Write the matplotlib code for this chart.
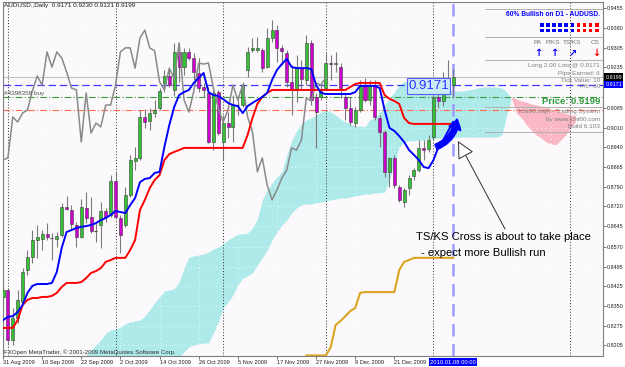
import numpy as np
import matplotlib.pyplot as plt
from matplotlib.patches import Rectangle
from matplotlib.transforms import blended_transform_factory

plt.rcParams['font.family'] = ['Liberation Sans', 'DejaVu Sans']

# ---- daily AUDUSD bars, 31 Aug 2009 .. 8 Jan 2010 ----
opens = [0.8383, 0.8409, 0.8223, 0.8305, 0.8364, 0.8483, 0.8531, 0.8594, 0.8598, 0.8617,
         0.8602, 0.8598, 0.8613, 0.8717, 0.8706, 0.8650, 0.8605, 0.8713, 0.8680, 0.8628,
         0.8650, 0.8702, 0.8687, 0.8813, 0.8676, 0.8650, 0.8761, 0.8887, 0.8899, 0.9051,
         0.9036, 0.9065, 0.9084, 0.9177, 0.9203, 0.9151, 0.9292, 0.9236, 0.9292, 0.9270,
         0.9214, 0.9162, 0.9140, 0.8958, 0.9143, 0.8958, 0.9028, 0.9014, 0.9095, 0.9095,
         0.9225, 0.9299, 0.9299, 0.9299, 0.9236, 0.9344, 0.9373, 0.9307, 0.9288, 0.9181,
         0.9151, 0.9232, 0.9188, 0.9325, 0.9125, 0.9125, 0.9158, 0.9251, 0.9247, 0.9236,
         0.9125, 0.9084, 0.9028, 0.9077, 0.9169, 0.9114, 0.9169, 0.9047, 0.8995, 0.8847,
         0.8899, 0.8791, 0.8735, 0.8787, 0.8832, 0.8854, 0.8936, 0.8932, 0.8976, 0.9125,
         0.9110, 0.9192, 0.9171]
highs = [0.8427, 0.8416, 0.8342, 0.8409, 0.8490, 0.8557, 0.8631, 0.8650, 0.8631, 0.8657,
         0.8620, 0.8624, 0.8732, 0.8758, 0.8724, 0.8661, 0.8746, 0.8772, 0.8754, 0.8657,
         0.8735, 0.8713, 0.8835, 0.8847, 0.8687, 0.8791, 0.8910, 0.8939, 0.9077, 0.9080,
         0.9084, 0.9114, 0.9158, 0.9225, 0.9232, 0.9325, 0.9329, 0.9307, 0.9307, 0.9288,
         0.9270, 0.9177, 0.9162, 0.9158, 0.9151, 0.9058, 0.9069, 0.9132, 0.9125, 0.9181,
         0.9310, 0.9344, 0.9347, 0.9307, 0.9381, 0.9411, 0.9392, 0.9318, 0.9299, 0.9244,
         0.9281, 0.9262, 0.9355, 0.9336, 0.9140, 0.9169, 0.9288, 0.9281, 0.9292, 0.9251,
         0.9140, 0.9125, 0.9088, 0.9188, 0.9195, 0.9188, 0.9188, 0.9058, 0.9002, 0.8902,
         0.8910, 0.8798, 0.8787, 0.8835, 0.8861, 0.8965, 0.8965, 0.8984, 0.9132, 0.9140,
         0.9218, 0.9262, 0.9230]
lows = [0.8372, 0.8205, 0.8205, 0.8286, 0.8353, 0.8464, 0.8509, 0.8528, 0.8557, 0.8594,
        0.8520, 0.8568, 0.8605, 0.8706, 0.8635, 0.8568, 0.8602, 0.8657, 0.8620, 0.8587,
        0.8565, 0.8661, 0.8680, 0.8676, 0.8546, 0.8643, 0.8754, 0.8854, 0.8891, 0.9010,
        0.9002, 0.9051, 0.9077, 0.9143, 0.9162, 0.9129, 0.9181, 0.9206, 0.9262, 0.9188,
        0.9143, 0.9125, 0.8954, 0.8928, 0.8984, 0.8891, 0.8973, 0.8958, 0.9058, 0.9088,
        0.9199, 0.9292, 0.9292, 0.9218, 0.9232, 0.9329, 0.9255, 0.9244, 0.9162, 0.9058,
        0.9106, 0.9151, 0.9169, 0.9095, 0.8936, 0.9114, 0.9151, 0.9188, 0.9218, 0.9121,
        0.9040, 0.9021, 0.9014, 0.9069, 0.9106, 0.9095, 0.9040, 0.8939, 0.8828, 0.8791,
        0.8787, 0.8735, 0.8717, 0.8761, 0.8817, 0.8847, 0.8891, 0.8921, 0.8965, 0.9084,
        0.9091, 0.9151, 0.9121]
closes = [0.8409, 0.8223, 0.8305, 0.8372, 0.8476, 0.8531, 0.8594, 0.8605, 0.8617, 0.8605,
          0.8602, 0.8609, 0.8717, 0.8709, 0.8654, 0.8605, 0.8717, 0.8676, 0.8628, 0.8628,
          0.8702, 0.8680, 0.8813, 0.8680, 0.8613, 0.8761, 0.8891, 0.8899, 0.9051, 0.9032,
          0.9065, 0.9077, 0.9147, 0.9203, 0.9169, 0.9292, 0.9236, 0.9292, 0.9270, 0.9218,
          0.9158, 0.9151, 0.8958, 0.9140, 0.8991, 0.9028, 0.9014, 0.9095, 0.9095, 0.9169,
          0.9292, 0.9307, 0.9307, 0.9232, 0.9344, 0.9373, 0.9307, 0.9296, 0.9181, 0.9151,
          0.9232, 0.9192, 0.9325, 0.9114, 0.9069, 0.9147, 0.9251, 0.9247, 0.9251, 0.9158,
          0.9084, 0.9032, 0.9077, 0.9169, 0.9114, 0.9169, 0.9051, 0.8995, 0.8847, 0.8899,
          0.8798, 0.8743, 0.8780, 0.8824, 0.8854, 0.8936, 0.8928, 0.8965, 0.9121, 0.9110,
          0.9177, 0.9169, 0.9199]

tenkan = [0.8297, 0.8309, 0.8312, 0.8327, 0.8353, 0.8398, 0.8424, 0.8431, 0.8431, 0.8431,
          0.8435, 0.8476, 0.8565, 0.8624, 0.8631, 0.8639, 0.8643, 0.8646, 0.8650, 0.8657,
          0.8668, 0.8676, 0.8687, 0.8702, 0.8698, 0.8694, 0.8724, 0.8750, 0.8809, 0.8821,
          0.8824, 0.8843, 0.8847, 0.8940, 0.9021, 0.9088, 0.9132, 0.9143, 0.9151, 0.9177,
          0.9195, 0.9214, 0.9143, 0.9132, 0.9129, 0.9117, 0.9103, 0.9095, 0.9091, 0.9065,
          0.9091, 0.9103, 0.9114, 0.9125, 0.9140, 0.9188, 0.9225, 0.9247, 0.9266, 0.9236,
          0.9232, 0.9232, 0.9232, 0.9229, 0.9169, 0.9140, 0.9136, 0.9136, 0.9136, 0.9136,
          0.9136, 0.9136, 0.9143, 0.9166, 0.9166, 0.9166, 0.9166, 0.9158, 0.9077, 0.9010,
          0.8999, 0.8980, 0.8958, 0.8928, 0.8910, 0.8891, 0.8865, 0.8861, 0.8891, 0.8939,
          0.8965, 0.8999, 0.9032]
kijun = [0.8268, 0.8268, 0.8268, 0.8297, 0.8353, 0.8372, 0.8379, 0.8379, 0.8383, 0.8383,
         0.8387, 0.8398, 0.8420, 0.8435, 0.8435, 0.8435, 0.8438, 0.8453, 0.8472, 0.8479,
         0.8490, 0.8513, 0.8520, 0.8528, 0.8528, 0.8528, 0.8557, 0.8594, 0.8706, 0.8743,
         0.8787, 0.8817, 0.8835, 0.8891, 0.8913, 0.8921, 0.8928, 0.8936, 0.8936, 0.8936,
         0.8936, 0.8936, 0.8936, 0.8936, 0.8936, 0.8936, 0.8936, 0.8936, 0.8936, 0.8936,
         0.8984, 0.9047, 0.9099, 0.9125, 0.9140, 0.9151, 0.9151, 0.9151, 0.9151, 0.9151,
         0.9151, 0.9151, 0.9151, 0.9151, 0.9151, 0.9151, 0.9151, 0.9151, 0.9151, 0.9151,
         0.9151, 0.9162, 0.9173, 0.9177, 0.9177, 0.9177, 0.9177, 0.9177, 0.9132, 0.9118,
         0.9110, 0.9099, 0.9047, 0.9028, 0.9025, 0.9025, 0.9025, 0.9025, 0.9025, 0.9025,
         0.9025, 0.9025, 0.9025]

# cloud (senkou spans), first value sits on bar 17, last one 25 bars past the last candle
cloud_first = 17
span_a = [0.8168, 0.8186, 0.8205, 0.8223, 0.8249, 0.8260, 0.8264, 0.8272, 0.8283, 0.8290,
          0.8294, 0.8297, 0.8312, 0.8335, 0.8361, 0.8383, 0.8405, 0.8409, 0.8413, 0.8439,
          0.8490, 0.8531, 0.8535, 0.8539, 0.8542, 0.8550, 0.8561, 0.8568, 0.8580, 0.8594,
          0.8605, 0.8617, 0.8617, 0.8620, 0.8639, 0.8672, 0.8743, 0.8780, 0.8806, 0.8828,
          0.8847, 0.8910, 0.8962, 0.8999, 0.9025, 0.9040, 0.9047, 0.9058, 0.9069, 0.9077,
          0.9069, 0.9058, 0.9043, 0.9032, 0.9025, 0.9017, 0.9017, 0.9014, 0.9040, 0.9047,
          0.9069, 0.9095, 0.9121, 0.9143, 0.9169, 0.9181, 0.9188, 0.9188, 0.9188, 0.9188,
          0.9188, 0.9188, 0.9173, 0.9158, 0.9151, 0.9147, 0.9147, 0.9147, 0.9151, 0.9154,
          0.9158, 0.9162, 0.9162, 0.9162, 0.9162, 0.9158, 0.9143, 0.9114, 0.9065, 0.9047,
          0.9021, 0.9002, 0.8984, 0.8973, 0.8958, 0.8951, 0.8947, 0.8965, 0.8984, 0.9010,
          0.9032]
span_b = [0.8094, 0.8094, 0.8094, 0.8094, 0.8094, 0.8094, 0.8094, 0.8094, 0.8094, 0.8094,
          0.8094, 0.8094, 0.8094, 0.8094, 0.8094, 0.8094, 0.8094, 0.8094, 0.8131, 0.8160,
          0.8179, 0.8197, 0.8205, 0.8209, 0.8212, 0.8212, 0.8249, 0.8290, 0.8342, 0.8364,
          0.8390, 0.8427, 0.8453, 0.8461, 0.8472, 0.8501, 0.8528, 0.8557, 0.8594, 0.8624,
          0.8650, 0.8668, 0.8694, 0.8713, 0.8724, 0.8728, 0.8728, 0.8732, 0.8735, 0.8739,
          0.8743, 0.8746, 0.8750, 0.8750, 0.8754, 0.8758, 0.8761, 0.8765, 0.8765, 0.8769,
          0.8769, 0.8772, 0.8817, 0.8884, 0.8939, 0.8958, 0.8962, 0.8962, 0.8965, 0.8965,
          0.8969, 0.8969, 0.8973, 0.8973, 0.8973, 0.8973, 0.8976, 0.8976, 0.8976, 0.8976,
          0.8976, 0.8976, 0.8976, 0.8976, 0.8976, 0.8984, 0.9058, 0.9125, 0.9117, 0.9110,
          0.9106, 0.9099, 0.9095, 0.9091, 0.9088, 0.9080, 0.9073, 0.9069, 0.9065, 0.9058,
          0.9058]

# orange trailing line, from bar 62
trail_first = 62
trail = [0.8166, 0.8166, 0.8166, 0.8166, 0.8166, 0.8197, 0.8279, 0.8294, 0.8312, 0.8331,
         0.8342, 0.8398, 0.8401, 0.8401, 0.8401, 0.8401, 0.8401, 0.8401, 0.8401, 0.8483,
         0.8513, 0.8520, 0.8528, 0.8528, 0.8528, 0.8528, 0.8528, 0.8528, 0.8528, 0.8528,
         0.8528]

date_labels = ['31 Aug 2009', '10 Sep 2009', '22 Sep 2009', '2 Oct 2009', '14 Oct 2009',
               '26 Oct 2009', '5 Nov 2009', '17 Nov 2009', '27 Nov 2009', '9 Dec 2009',
               '21 Dec 2009']
month_starts = [1, 23, 45, 66, 88, 116]   # bars of 1 Sep, 1 Oct, 2 Nov, 1 Dec, 4 Jan, 1 Feb
price_labels = ['0.9455', '0.9380', '0.9305', '0.9235', '0.9085', '0.9010', '0.8940',
                '0.8865', '0.8790', '0.8720', '0.8645', '0.8570', '0.8495', '0.8425',
                '0.8350', '0.8275', '0.8205']

order_price = 0.9171
buy_line = 0.9124
stop_line = 0.9077
bullish_boxes = 6          # of 10
panel_heads = ['PA', 'P/KS', 'TS/KS', 'CS']
panel_arrows = ['\u2191', '\u2191', '\u2197', '\u2193']
panel_colors = ['#0000ff', '#0000ff', '#0000ff', '#ff0000']

# ------------------------------------------------------------------
n = len(closes)
bars = np.arange(n)
W, H = 625, 367
fig = plt.figure(figsize=(W / 100, H / 100), dpi=100)
ax = fig.add_axes([3 / W, 11 / H, 600 / W, 354 / H])
ax.set_facecolor('#fcf9fc')
ax.set_xlim(0.2, 122.65)
ax.set_ylim(0.81639, 0.94773)


def fx(px):
    return (px - 3) / 600


def fy(py):
    return (356 - py) / 354


# cloud
cx = np.arange(cloud_first, cloud_first + len(span_a))
a = np.array(span_a)
b = np.array(span_b)
ax.fill_between(cx, a, b, where=a >= b, interpolate=True, color='#aeeaea', lw=0, zorder=1)
ax.fill_between(cx, a, b, where=a < b, interpolate=True, color='#f9b8c4', lw=0, zorder=1)

# faint dotted grid (shows as white dots over the cloud)
for p in price_labels:
    ax.axhline(float(p), color='white', lw=0.6, ls=(0, (1, 4)), zorder=1.5)
for k in range(0, 124, 8):
    ax.axvline(k, color='white', lw=0.6, ls=(0, (1, 4)), zorder=1.5)

# separators
for m in month_starts:
    ax.axvline(m, color='#303030', lw=0.7, ls=(0, (1, 2)), zorder=2)
ax.axvline(n - 1, color='#9c9cff', lw=1.8, ls=(0, (5, 3)), zorder=2)

# horizontal trade levels
ax.axhline(closes[-1], color='#c4c4c4', lw=0.8, zorder=2)
ax.axhline(order_price, color='#3b3bff', lw=0.9, ls=(0, (6, 3)), zorder=2)
ax.axhline(buy_line, color='#3a9a3a', lw=0.8, ls=(0, (6, 2, 1, 2)), zorder=2)
ax.axhline(stop_line, color='#ff6a4a', lw=0.8, ls=(0, (6, 2, 1, 2)), zorder=2)

# candles
bw = 0.62
for i in bars:
    o, h, l, c = opens[i], highs[i], lows[i], closes[i]
    ax.vlines(i, l, h, color='#7a7a7a', lw=0.8, zorder=3)
    if abs(c - o) < 1e-6:
        ax.hlines(o, i - bw / 2, i + bw / 2, color='#505050', lw=0.9, zorder=3)
        continue
    col = '#35c035' if c > o else '#d000d0'
    ax.add_patch(Rectangle((i - bw / 2, min(o, c)), bw, abs(c - o), facecolor=col,
                           edgecolor='#3c3c3c', lw=0.4, zorder=3))

# indicator lines
ax.plot(bars[:-26], closes[26:], color='#8a8a8a', lw=1.1, zorder=4)
ax.plot(bars, kijun, color='#ff0000', lw=1.4, zorder=4)
ax.plot(bars, tenkan, color='#0000ff', lw=1.4, zorder=4)
ax.plot(np.arange(trail_first, trail_first + len(trail)), trail, color='#daa520', lw=1.5,
        zorder=4)

# axes look
for s in ax.spines.values():
    s.set_color('#808080')
    s.set_linewidth(0.8)
ax.yaxis.tick_right()
ax.set_yticks([float(p) for p in price_labels])
ax.set_yticklabels(price_labels)
ax.tick_params(axis='y', length=2, width=0.6, color='#606060', labelsize=3.9, pad=1,
               labelcolor='#202020')
ax.set_xticks(np.arange(len(date_labels)) * 8)
ax.set_xticklabels(date_labels, ha='left')
ax.tick_params(axis='x', length=2, width=0.6, color='#606060', labelsize=4.1, pad=1.2,
               labelcolor='#202020')

ty = blended_transform_factory(ax.transAxes, ax.transData)
ax.text(1.004, closes[-1], f'{closes[-1]:.4f}', transform=ty, fontsize=3.9, color='white',
        va='center', ha='left', clip_on=False,
        bbox=dict(boxstyle='square,pad=0.2', fc='#000000', ec='none'))
ax.text(1.004, order_price, f'{order_price:.4f}', transform=ty, fontsize=3.9, color='white',
        va='center', ha='left', clip_on=False,
        bbox=dict(boxstyle='square,pad=0.2', fc='#0000ff', ec='none'))
tx = blended_transform_factory(ax.transData, ax.transAxes)
ax.text(n - 1, fy(362), '2010.01.08 00:00', transform=tx, fontsize=4.2, color='white',
        ha='center', va='center', clip_on=False,
        bbox=dict(boxstyle='square,pad=0.25', fc='#0000ff', ec='none'))

T = dict(transform=ax.transAxes, zorder=8)
ax.text(fx(4), fy(6), f'AUDUSD.,Daily  {opens[-1]:.4f} {highs[-1]:.4f} {lows[-1]:.4f} '
        f'{closes[-1]:.4f}', fontsize=4.6, color='#202020', va='center', **T)
ax.text(fx(4), fy(93), '#4398358 buy', fontsize=4.6, color='#505050', va='center', **T)
ax.text(fx(4), fy(352), 'FXOpen MetaTrader, \u00a9 2001-2009 MetaQuotes Software Corp.',
        fontsize=4.4, color='#303030', va='center', **T)

# info panel
for py in [9, 37, 60, 107, 132]:
    ax.plot([fx(485), fx(602)], [fy(py), fy(py)], color='#b0b0b0', lw=0.7, **T)
ax.text(fx(600), fy(15), '60% Bullish on D1 - AUDUSD.', fontsize=4.8, fontweight='bold',
        color='#0000ff', ha='right', va='center', **T)
for row in [25, 30.5]:
    for k in range(10):
        col = '#0000ff' if k < bullish_boxes else '#ff0000'
        ax.add_patch(Rectangle((fx(540 + 6.1 * k), fy(row + 1.8)), 3.6 / 600, 3.6 / 354,
                               facecolor=col, edgecolor='none', **T))
for hx, head, arr, col in zip([537, 553, 572, 595], panel_heads, panel_arrows, panel_colors):
    ax.text(fx(hx), fy(43), head, fontsize=4.6, color='#707070', ha='center', va='center', **T)
    ax.text(fx(hx + 1), fy(53), arr, fontsize=7, fontweight='bold', color=col, ha='center',
            va='center', family='DejaVu Sans', **T)
for py, s in [(66, 'Long 2.00 Lots @ 0.9171'), (73, 'Pips Earned: 6'),
              (80, 'Tick Value: 10'), (87, 'P/L: 60'),
              (112, 'ichi60.mq4 - Trading System'), (119, 'by www.ichi60.com'),
              (126, 'Build 6.103')]:
    ax.text(fx(600), fy(py), s, fontsize=4.6, color='#808080', ha='right', va='center', **T)
ax.text(fx(600), fy(101), f'Price: {closes[-1]:.4f}', fontsize=6.8, fontweight='bold',
        color='#2e9a3e', ha='right', va='center', **T)

# chart objects
ax.text(fx(428.5), fy(86), f'{order_price:.4f}', fontsize=9.5, color='#2f2fff', ha='center',
        va='center', bbox=dict(boxstyle='square,pad=0.12', fc='#c8ecf6', ec='#5a5aff', lw=0.8),
        **T)
ax.annotate('', xy=(fx(457), fy(119)), xytext=(fx(436), fy(147)), xycoords='axes fraction',
            arrowprops=dict(arrowstyle='simple,head_length=0.7,head_width=0.9,tail_width=0.4',
                            fc='#0000ff', ec='#0000ff', connectionstyle='arc3,rad=0.3',
                            mutation_scale=10, shrinkA=0, shrinkB=0), zorder=7)
ax.annotate('', xy=(fx(458), fy(141)), xytext=(fx(505), fy(229)), xycoords='axes fraction',
            arrowprops=dict(arrowstyle='-|>,head_length=0.9,head_width=0.45', fc='white',
                            ec='#303030', lw=0.7, mutation_scale=12, shrinkA=0, shrinkB=0),
            zorder=7)
ax.text(fx(416), fy(237), 'TS/KS Cross is about to take place', fontsize=8.1,
        color='black', ha='left', va='center', **T)
ax.text(fx(421), fy(253), '- expect more Bullish run', fontsize=8.1,
        color='black', ha='left', va='center', **T)

fig.savefig('out.png', dpi=100)
